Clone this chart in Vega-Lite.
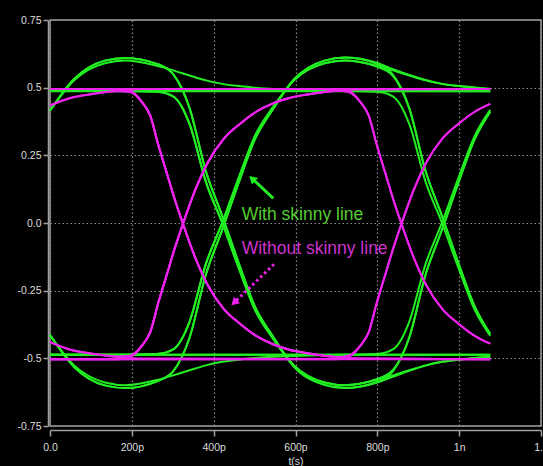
{
  "$schema": "https://vega.github.io/schema/vega-lite/v6.json",
  "width": 491,
  "height": 406,
  "autosize": "none",
  "padding": {"left": 50, "top": 20, "right": 2, "bottom": 40},
  "background": "#000000",
  "config": {
    "view": {"stroke": "#a0a0a0", "strokeWidth": 1.5},
    "axis": {
      "domainColor": "#a0a0a0", "domainWidth": 1.5,
      "tickColor": "#a0a0a0", "tickWidth": 1.5,
      "labelColor": "#dcdcdc", "labelFont": "Liberation Sans", "labelFontSize": 10.5,
      "titleColor": "#dcdcdc", "titleFont": "Liberation Sans", "titleFontSize": 10.5, "titleFontWeight": "normal",
      "gridColor": "#8c8c8c", "gridDash": [1.5, 2.5], "gridWidth": 1.2,
      "labelOverlap": false
    }
  },
  "datasets": {
    "green": [
      {"k":"g1","t":0,"v":0.487},{"k":"g1","t":1.076,"v":0.487},
      {"k":"g2","t":0,"v":-0.487},{"k":"g2","t":1.076,"v":-0.487},
      {"k":"g3","t":0,"v":0.415},{"k":"g3","t":0.059,"v":0.527},{"k":"g3","t":0.134,"v":0.59},{"k":"g3","t":0.184,"v":0.6},{"k":"g3","t":0.261,"v":0.581},{"k":"g3","t":0.301,"v":0.564},{"k":"g3","t":0.341,"v":0.545},{"k":"g3","t":0.381,"v":0.527},{"k":"g3","t":0.421,"v":0.514},{"k":"g3","t":0.461,"v":0.506},{"k":"g3","t":0.501,"v":0.5},{"k":"g3","t":0.546,"v":0.495},{"k":"g3","t":0.596,"v":0.492},{"k":"g3","t":0.671,"v":0.489},{"k":"g3","t":0.721,"v":0.488},{"k":"g3","t":1.076,"v":0.487},
      {"k":"g4","t":0,"v":-0.414},{"k":"g4","t":0.059,"v":-0.526},{"k":"g4","t":0.134,"v":-0.589},{"k":"g4","t":0.184,"v":-0.599},{"k":"g4","t":0.261,"v":-0.58},{"k":"g4","t":0.301,"v":-0.563},{"k":"g4","t":0.341,"v":-0.544},{"k":"g4","t":0.381,"v":-0.526},{"k":"g4","t":0.421,"v":-0.513},{"k":"g4","t":0.461,"v":-0.505},{"k":"g4","t":0.501,"v":-0.499},{"k":"g4","t":0.546,"v":-0.494},{"k":"g4","t":0.596,"v":-0.491},{"k":"g4","t":0.671,"v":-0.488},{"k":"g4","t":0.721,"v":-0.487},{"k":"g4","t":1.076,"v":-0.487},
      {"k":"g5","t":0,"v":0.415},{"k":"g5","t":0.059,"v":0.532},{"k":"g5","t":0.134,"v":0.6},{"k":"g5","t":0.184,"v":0.61},{"k":"g5","t":0.261,"v":0.588},{"k":"g5","t":0.301,"v":0.55},{"k":"g5","t":0.341,"v":0.425},{"k":"g5","t":0.381,"v":0.191},{"k":"g5","t":0.421,"v":0.026},{"k":"g5","t":0.461,"v":-0.147},{"k":"g5","t":0.501,"v":-0.309},{"k":"g5","t":0.546,"v":-0.422},{"k":"g5","t":0.596,"v":-0.53},{"k":"g5","t":0.671,"v":-0.598},{"k":"g5","t":0.721,"v":-0.61},{"k":"g5","t":0.798,"v":-0.59},{"k":"g5","t":0.838,"v":-0.568},{"k":"g5","t":0.878,"v":-0.546},{"k":"g5","t":0.918,"v":-0.527},{"k":"g5","t":0.958,"v":-0.513},{"k":"g5","t":0.998,"v":-0.505},{"k":"g5","t":1.038,"v":-0.499},{"k":"g5","t":1.076,"v":-0.494},
      {"k":"g6","t":0,"v":0.488},{"k":"g6","t":0.184,"v":0.488},{"k":"g6","t":0.261,"v":0.485},{"k":"g6","t":0.301,"v":0.468},{"k":"g6","t":0.341,"v":0.366},{"k":"g6","t":0.381,"v":0.152},{"k":"g6","t":0.421,"v":0.0},{"k":"g6","t":0.461,"v":-0.165},{"k":"g6","t":0.501,"v":-0.321},{"k":"g6","t":0.546,"v":-0.429},{"k":"g6","t":0.596,"v":-0.526},{"k":"g6","t":0.671,"v":-0.589},{"k":"g6","t":0.721,"v":-0.599},{"k":"g6","t":0.798,"v":-0.58},{"k":"g6","t":0.838,"v":-0.563},{"k":"g6","t":0.878,"v":-0.544},{"k":"g6","t":0.918,"v":-0.526},{"k":"g6","t":0.958,"v":-0.513},{"k":"g6","t":0.998,"v":-0.505},{"k":"g6","t":1.038,"v":-0.499},{"k":"g6","t":1.076,"v":-0.494},
      {"k":"g7","t":0,"v":-0.414},{"k":"g7","t":0.059,"v":-0.532},{"k":"g7","t":0.134,"v":-0.6},{"k":"g7","t":0.184,"v":-0.61},{"k":"g7","t":0.261,"v":-0.585},{"k":"g7","t":0.301,"v":-0.548},{"k":"g7","t":0.341,"v":-0.424},{"k":"g7","t":0.381,"v":-0.19},{"k":"g7","t":0.421,"v":-0.025},{"k":"g7","t":0.461,"v":0.148},{"k":"g7","t":0.501,"v":0.31},{"k":"g7","t":0.546,"v":0.423},{"k":"g7","t":0.596,"v":0.53},{"k":"g7","t":0.671,"v":0.6},{"k":"g7","t":0.721,"v":0.611},{"k":"g7","t":0.798,"v":0.592},{"k":"g7","t":0.838,"v":0.568},{"k":"g7","t":0.878,"v":0.547},{"k":"g7","t":0.918,"v":0.528},{"k":"g7","t":0.958,"v":0.514},{"k":"g7","t":0.998,"v":0.506},{"k":"g7","t":1.038,"v":0.501},{"k":"g7","t":1.076,"v":0.495},
      {"k":"g8","t":0,"v":-0.487},{"k":"g8","t":0.184,"v":-0.487},{"k":"g8","t":0.261,"v":-0.484},{"k":"g8","t":0.301,"v":-0.467},{"k":"g8","t":0.341,"v":-0.365},{"k":"g8","t":0.381,"v":-0.151},{"k":"g8","t":0.421,"v":0.001},{"k":"g8","t":0.461,"v":0.166},{"k":"g8","t":0.501,"v":0.322},{"k":"g8","t":0.546,"v":0.43},{"k":"g8","t":0.596,"v":0.527},{"k":"g8","t":0.671,"v":0.59},{"k":"g8","t":0.721,"v":0.6},{"k":"g8","t":0.798,"v":0.581},{"k":"g8","t":0.838,"v":0.564},{"k":"g8","t":0.878,"v":0.545},{"k":"g8","t":0.918,"v":0.527},{"k":"g8","t":0.958,"v":0.514},{"k":"g8","t":0.998,"v":0.506},{"k":"g8","t":1.038,"v":0.5},{"k":"g8","t":1.076,"v":0.495},
      {"k":"g9","t":0,"v":0.488},{"k":"g9","t":0.184,"v":0.488},{"k":"g9","t":0.261,"v":0.485},{"k":"g9","t":0.301,"v":0.468},{"k":"g9","t":0.341,"v":0.366},{"k":"g9","t":0.381,"v":0.152},{"k":"g9","t":0.421,"v":0.0},{"k":"g9","t":0.461,"v":-0.165},{"k":"g9","t":0.501,"v":-0.321},{"k":"g9","t":0.546,"v":-0.429},{"k":"g9","t":0.596,"v":-0.526},{"k":"g9","t":0.671,"v":-0.589},{"k":"g9","t":0.721,"v":-0.599},{"k":"g9","t":0.798,"v":-0.577},{"k":"g9","t":0.838,"v":-0.543},{"k":"g9","t":0.878,"v":-0.422},{"k":"g9","t":0.918,"v":-0.19},{"k":"g9","t":0.958,"v":-0.025},{"k":"g9","t":0.998,"v":0.148},{"k":"g9","t":1.038,"v":0.31},{"k":"g9","t":1.076,"v":0.411},
      {"k":"g10","t":0,"v":-0.487},{"k":"g10","t":0.184,"v":-0.487},{"k":"g10","t":0.261,"v":-0.484},{"k":"g10","t":0.301,"v":-0.467},{"k":"g10","t":0.341,"v":-0.365},{"k":"g10","t":0.381,"v":-0.151},{"k":"g10","t":0.421,"v":0.001},{"k":"g10","t":0.461,"v":0.166},{"k":"g10","t":0.501,"v":0.322},{"k":"g10","t":0.546,"v":0.43},{"k":"g10","t":0.596,"v":0.527},{"k":"g10","t":0.671,"v":0.59},{"k":"g10","t":0.721,"v":0.6},{"k":"g10","t":0.798,"v":0.578},{"k":"g10","t":0.838,"v":0.544},{"k":"g10","t":0.878,"v":0.423},{"k":"g10","t":0.918,"v":0.191},{"k":"g10","t":0.958,"v":0.026},{"k":"g10","t":0.998,"v":-0.147},{"k":"g10","t":1.038,"v":-0.309},{"k":"g10","t":1.076,"v":-0.41},
      {"k":"g11","t":0,"v":0.488},{"k":"g11","t":0.721,"v":0.488},{"k":"g11","t":0.798,"v":0.485},{"k":"g11","t":0.838,"v":0.468},{"k":"g11","t":0.878,"v":0.366},{"k":"g11","t":0.918,"v":0.152},{"k":"g11","t":0.958,"v":0.0},{"k":"g11","t":0.998,"v":-0.165},{"k":"g11","t":1.038,"v":-0.321},{"k":"g11","t":1.076,"v":-0.417},
      {"k":"g12","t":0,"v":-0.487},{"k":"g12","t":0.721,"v":-0.487},{"k":"g12","t":0.798,"v":-0.484},{"k":"g12","t":0.838,"v":-0.467},{"k":"g12","t":0.878,"v":-0.365},{"k":"g12","t":0.918,"v":-0.151},{"k":"g12","t":0.958,"v":0.001},{"k":"g12","t":0.998,"v":0.166},{"k":"g12","t":1.038,"v":0.322},{"k":"g12","t":1.076,"v":0.418},
      {"k":"g13","t":0,"v":0.415},{"k":"g13","t":0.059,"v":0.532},{"k":"g13","t":0.134,"v":0.6},{"k":"g13","t":0.184,"v":0.61},{"k":"g13","t":0.261,"v":0.588},{"k":"g13","t":0.301,"v":0.55},{"k":"g13","t":0.341,"v":0.425},{"k":"g13","t":0.381,"v":0.191},{"k":"g13","t":0.421,"v":0.026},{"k":"g13","t":0.461,"v":-0.147},{"k":"g13","t":0.501,"v":-0.309},{"k":"g13","t":0.546,"v":-0.422},{"k":"g13","t":0.596,"v":-0.53},{"k":"g13","t":0.671,"v":-0.598},{"k":"g13","t":0.721,"v":-0.61},{"k":"g13","t":0.798,"v":-0.587},{"k":"g13","t":0.838,"v":-0.548},{"k":"g13","t":0.878,"v":-0.424},{"k":"g13","t":0.918,"v":-0.19},{"k":"g13","t":0.958,"v":-0.025},{"k":"g13","t":0.998,"v":0.148},{"k":"g13","t":1.038,"v":0.31},{"k":"g13","t":1.076,"v":0.411},
      {"k":"g14","t":0,"v":-0.414},{"k":"g14","t":0.059,"v":-0.532},{"k":"g14","t":0.134,"v":-0.6},{"k":"g14","t":0.184,"v":-0.61},{"k":"g14","t":0.261,"v":-0.585},{"k":"g14","t":0.301,"v":-0.548},{"k":"g14","t":0.341,"v":-0.424},{"k":"g14","t":0.381,"v":-0.19},{"k":"g14","t":0.421,"v":-0.025},{"k":"g14","t":0.461,"v":0.148},{"k":"g14","t":0.501,"v":0.31},{"k":"g14","t":0.546,"v":0.423},{"k":"g14","t":0.596,"v":0.53},{"k":"g14","t":0.671,"v":0.6},{"k":"g14","t":0.721,"v":0.611},{"k":"g14","t":0.798,"v":0.588},{"k":"g14","t":0.838,"v":0.548},{"k":"g14","t":0.878,"v":0.425},{"k":"g14","t":0.918,"v":0.191},{"k":"g14","t":0.958,"v":0.026},{"k":"g14","t":0.998,"v":-0.147},{"k":"g14","t":1.038,"v":-0.308},{"k":"g14","t":1.076,"v":-0.41}
    ],
    "magenta": [
      {"k":"m1","t":0,"v":0.495},{"k":"m1","t":1.076,"v":0.495},
      {"k":"m2","t":0,"v":-0.503},{"k":"m2","t":1.076,"v":-0.503},
      {"k":"m3","t":0,"v":0.434},{"k":"m3","t":0.05,"v":0.462},{"k":"m3","t":0.1,"v":0.476},{"k":"m3","t":0.165,"v":0.489},{"k":"m3","t":0.225,"v":0.495},{"k":"m3","t":1.076,"v":0.495},
      {"k":"m4","t":0,"v":-0.44},{"k":"m4","t":0.05,"v":-0.468},{"k":"m4","t":0.1,"v":-0.482},{"k":"m4","t":0.165,"v":-0.495},{"k":"m4","t":0.225,"v":-0.501},{"k":"m4","t":1.076,"v":-0.503},
      {"k":"m5","t":0,"v":0.434},{"k":"m5","t":0.05,"v":0.462},{"k":"m5","t":0.1,"v":0.476},{"k":"m5","t":0.165,"v":0.487},{"k":"m5","t":0.195,"v":0.484},{"k":"m5","t":0.225,"v":0.445},{"k":"m5","t":0.245,"v":0.397},{"k":"m5","t":0.265,"v":0.287},{"k":"m5","t":0.285,"v":0.187},{"k":"m5","t":0.305,"v":0.087},{"k":"m5","t":0.325,"v":-0.003},{"k":"m5","t":0.355,"v":-0.128},{"k":"m5","t":0.385,"v":-0.228},{"k":"m5","t":0.425,"v":-0.318},{"k":"m5","t":0.465,"v":-0.373},{"k":"m5","t":0.505,"v":-0.418},{"k":"m5","t":0.545,"v":-0.448},{"k":"m5","t":0.585,"v":-0.468},{"k":"m5","t":0.625,"v":-0.48},{"k":"m5","t":0.675,"v":-0.491},{"k":"m5","t":0.699,"v":-0.495},{"k":"m5","t":0.759,"v":-0.501},{"k":"m5","t":1.076,"v":-0.503},
      {"k":"m6","t":0,"v":0.495},{"k":"m6","t":0.165,"v":0.495},{"k":"m6","t":0.195,"v":0.489},{"k":"m6","t":0.225,"v":0.447},{"k":"m6","t":0.245,"v":0.397},{"k":"m6","t":0.265,"v":0.287},{"k":"m6","t":0.285,"v":0.187},{"k":"m6","t":0.305,"v":0.087},{"k":"m6","t":0.325,"v":-0.003},{"k":"m6","t":0.355,"v":-0.128},{"k":"m6","t":0.385,"v":-0.228},{"k":"m6","t":0.425,"v":-0.318},{"k":"m6","t":0.465,"v":-0.373},{"k":"m6","t":0.505,"v":-0.418},{"k":"m6","t":0.545,"v":-0.448},{"k":"m6","t":0.585,"v":-0.468},{"k":"m6","t":0.625,"v":-0.48},{"k":"m6","t":0.675,"v":-0.491},{"k":"m6","t":0.699,"v":-0.495},{"k":"m6","t":0.759,"v":-0.501},{"k":"m6","t":1.076,"v":-0.503},
      {"k":"m7","t":0,"v":-0.44},{"k":"m7","t":0.05,"v":-0.468},{"k":"m7","t":0.1,"v":-0.482},{"k":"m7","t":0.165,"v":-0.493},{"k":"m7","t":0.195,"v":-0.49},{"k":"m7","t":0.225,"v":-0.451},{"k":"m7","t":0.245,"v":-0.403},{"k":"m7","t":0.265,"v":-0.293},{"k":"m7","t":0.285,"v":-0.193},{"k":"m7","t":0.305,"v":-0.093},{"k":"m7","t":0.325,"v":-0.003},{"k":"m7","t":0.355,"v":0.122},{"k":"m7","t":0.385,"v":0.222},{"k":"m7","t":0.425,"v":0.312},{"k":"m7","t":0.465,"v":0.367},{"k":"m7","t":0.505,"v":0.412},{"k":"m7","t":0.545,"v":0.442},{"k":"m7","t":0.585,"v":0.462},{"k":"m7","t":0.625,"v":0.474},{"k":"m7","t":0.675,"v":0.485},{"k":"m7","t":0.699,"v":0.489},{"k":"m7","t":0.759,"v":0.494},{"k":"m7","t":1.076,"v":0.495},
      {"k":"m8","t":0,"v":-0.503},{"k":"m8","t":0.165,"v":-0.503},{"k":"m8","t":0.195,"v":-0.495},{"k":"m8","t":0.225,"v":-0.453},{"k":"m8","t":0.245,"v":-0.403},{"k":"m8","t":0.265,"v":-0.293},{"k":"m8","t":0.285,"v":-0.193},{"k":"m8","t":0.305,"v":-0.093},{"k":"m8","t":0.325,"v":-0.003},{"k":"m8","t":0.355,"v":0.122},{"k":"m8","t":0.385,"v":0.222},{"k":"m8","t":0.425,"v":0.312},{"k":"m8","t":0.465,"v":0.367},{"k":"m8","t":0.505,"v":0.412},{"k":"m8","t":0.545,"v":0.442},{"k":"m8","t":0.585,"v":0.462},{"k":"m8","t":0.625,"v":0.474},{"k":"m8","t":0.675,"v":0.485},{"k":"m8","t":0.699,"v":0.489},{"k":"m8","t":0.759,"v":0.494},{"k":"m8","t":1.076,"v":0.495},
      {"k":"m9","t":0,"v":0.495},{"k":"m9","t":0.165,"v":0.495},{"k":"m9","t":0.195,"v":0.489},{"k":"m9","t":0.225,"v":0.447},{"k":"m9","t":0.245,"v":0.397},{"k":"m9","t":0.265,"v":0.287},{"k":"m9","t":0.285,"v":0.187},{"k":"m9","t":0.305,"v":0.087},{"k":"m9","t":0.325,"v":-0.003},{"k":"m9","t":0.355,"v":-0.128},{"k":"m9","t":0.385,"v":-0.228},{"k":"m9","t":0.425,"v":-0.318},{"k":"m9","t":0.465,"v":-0.373},{"k":"m9","t":0.505,"v":-0.418},{"k":"m9","t":0.545,"v":-0.448},{"k":"m9","t":0.585,"v":-0.468},{"k":"m9","t":0.625,"v":-0.48},{"k":"m9","t":0.675,"v":-0.491},{"k":"m9","t":0.699,"v":-0.495},{"k":"m9","t":0.729,"v":-0.49},{"k":"m9","t":0.759,"v":-0.451},{"k":"m9","t":0.779,"v":-0.403},{"k":"m9","t":0.799,"v":-0.293},{"k":"m9","t":0.819,"v":-0.193},{"k":"m9","t":0.839,"v":-0.093},{"k":"m9","t":0.859,"v":-0.003},{"k":"m9","t":0.889,"v":0.122},{"k":"m9","t":0.919,"v":0.222},{"k":"m9","t":0.959,"v":0.312},{"k":"m9","t":0.999,"v":0.367},{"k":"m9","t":1.039,"v":0.412},{"k":"m9","t":1.076,"v":0.44},
      {"k":"m10","t":0,"v":-0.503},{"k":"m10","t":0.165,"v":-0.503},{"k":"m10","t":0.195,"v":-0.495},{"k":"m10","t":0.225,"v":-0.453},{"k":"m10","t":0.245,"v":-0.403},{"k":"m10","t":0.265,"v":-0.293},{"k":"m10","t":0.285,"v":-0.193},{"k":"m10","t":0.305,"v":-0.093},{"k":"m10","t":0.325,"v":-0.003},{"k":"m10","t":0.355,"v":0.122},{"k":"m10","t":0.385,"v":0.222},{"k":"m10","t":0.425,"v":0.312},{"k":"m10","t":0.465,"v":0.367},{"k":"m10","t":0.505,"v":0.412},{"k":"m10","t":0.545,"v":0.442},{"k":"m10","t":0.585,"v":0.462},{"k":"m10","t":0.625,"v":0.474},{"k":"m10","t":0.675,"v":0.485},{"k":"m10","t":0.699,"v":0.489},{"k":"m10","t":0.729,"v":0.484},{"k":"m10","t":0.759,"v":0.445},{"k":"m10","t":0.779,"v":0.397},{"k":"m10","t":0.799,"v":0.287},{"k":"m10","t":0.819,"v":0.187},{"k":"m10","t":0.839,"v":0.087},{"k":"m10","t":0.859,"v":-0.003},{"k":"m10","t":0.889,"v":-0.128},{"k":"m10","t":0.919,"v":-0.228},{"k":"m10","t":0.959,"v":-0.318},{"k":"m10","t":0.999,"v":-0.373},{"k":"m10","t":1.039,"v":-0.418},{"k":"m10","t":1.076,"v":-0.446},
      {"k":"m11","t":0,"v":0.495},{"k":"m11","t":0.699,"v":0.495},{"k":"m11","t":0.729,"v":0.489},{"k":"m11","t":0.759,"v":0.447},{"k":"m11","t":0.779,"v":0.397},{"k":"m11","t":0.799,"v":0.287},{"k":"m11","t":0.819,"v":0.187},{"k":"m11","t":0.839,"v":0.087},{"k":"m11","t":0.859,"v":-0.003},{"k":"m11","t":0.889,"v":-0.128},{"k":"m11","t":0.919,"v":-0.228},{"k":"m11","t":0.959,"v":-0.318},{"k":"m11","t":0.999,"v":-0.373},{"k":"m11","t":1.039,"v":-0.418},{"k":"m11","t":1.076,"v":-0.446},
      {"k":"m12","t":0,"v":-0.503},{"k":"m12","t":0.699,"v":-0.503},{"k":"m12","t":0.729,"v":-0.495},{"k":"m12","t":0.759,"v":-0.453},{"k":"m12","t":0.779,"v":-0.403},{"k":"m12","t":0.799,"v":-0.293},{"k":"m12","t":0.819,"v":-0.193},{"k":"m12","t":0.839,"v":-0.093},{"k":"m12","t":0.859,"v":-0.003},{"k":"m12","t":0.889,"v":0.122},{"k":"m12","t":0.919,"v":0.222},{"k":"m12","t":0.959,"v":0.312},{"k":"m12","t":0.999,"v":0.367},{"k":"m12","t":1.039,"v":0.412},{"k":"m12","t":1.076,"v":0.44}
    ]
  },
  "layer": [
    {
      "data": {"name": "green"},
      "mark": {"type": "line", "interpolate": "monotone", "strokeWidth": 2, "color": "#22ee22"},
      "encoding": {
        "x": {"field": "t", "type": "quantitative", "scale": {"domain": [0, 1.2], "nice": false, "zero": false},
              "axis": {"title": "t(s)", "values": [0, 0.2, 0.4, 0.6, 0.8, 1, 1.2], "labelExpr": "datum.value == 0 ? '0.0' : datum.value == 1 ? '1n' : datum.value > 1.1 ? '1.2' : round(datum.value * 1000) + 'p'", "offset": 4, "tickSize": 6, "labelPadding": 6, "titlePadding": 4, "labelFlush": false}},
        "y": {"field": "v", "type": "quantitative", "scale": {"domain": [-0.75, 0.75], "nice": false, "zero": false},
              "axis": {"title": null, "values": [-0.75, -0.5, -0.25, 0, 0.25, 0.5, 0.75], "labelExpr": "datum.value === 0 ? '0.0' : toString(datum.value)", "offset": 2, "tickSize": 5, "labelPadding": 2, "labelFlush": false}},
        "detail": {"field": "k"}
      }
    },
    {
      "data": {"name": "magenta"},
      "mark": {"type": "line", "interpolate": "monotone", "strokeWidth": 2, "color": "#ee22ee"},
      "encoding": {
        "x": {"field": "t", "type": "quantitative"},
        "y": {"field": "v", "type": "quantitative"},
        "detail": {"field": "k"}
      }
    },
    {
      "data": {"values": [{}]},
      "mark": {"type": "text", "text": "With skinny line", "align": "left", "baseline": "alphabetic", "font": "Liberation Sans", "fontSize": 17.5, "color": "#55cc33"},
      "encoding": {"x": {"datum": 0.4685, "type": "quantitative"}, "y": {"datum": 0.011, "type": "quantitative"}}
    },
    {
      "data": {"values": [{}]},
      "mark": {"type": "text", "text": "Without skinny line", "align": "left", "baseline": "alphabetic", "font": "Liberation Sans", "fontSize": 17.5, "color": "#cc33cc"},
      "encoding": {"x": {"datum": 0.4685, "type": "quantitative"}, "y": {"datum": -0.1156, "type": "quantitative"}}
    },
    {
      "data": {"values": [{}]},
      "mark": {"type": "rule", "strokeWidth": 3, "color": "#22ee22"},
      "encoding": {"x": {"datum": 0.5457, "type": "quantitative"}, "y": {"datum": 0.0912, "type": "quantitative"}, "x2": {"datum": 0.4941}, "y2": {"datum": 0.164}}
    },
    {
      "data": {"values": [{}]},
      "mark": {"type": "point", "shape": "triangle-up", "filled": true, "size": 80, "angle": 314, "color": "#22ee22", "opacity": 1},
      "encoding": {"x": {"datum": 0.4941, "type": "quantitative"}, "y": {"datum": 0.164, "type": "quantitative"}}
    },
    {
      "data": {"values": [{}]},
      "mark": {"type": "rule", "strokeWidth": 3, "strokeDash": [2.5, 3], "color": "#ee22ee"},
      "encoding": {"x": {"datum": 0.5474, "type": "quantitative"}, "y": {"datum": -0.1526, "type": "quantitative"}, "x2": {"datum": 0.4501}, "y2": {"datum": -0.2941}}
    },
    {
      "data": {"values": [{}]},
      "mark": {"type": "point", "shape": "triangle-up", "filled": true, "size": 80, "angle": 226, "color": "#ee22ee", "opacity": 1},
      "encoding": {"x": {"datum": 0.4501, "type": "quantitative"}, "y": {"datum": -0.2941, "type": "quantitative"}}
    }
  ]
}
